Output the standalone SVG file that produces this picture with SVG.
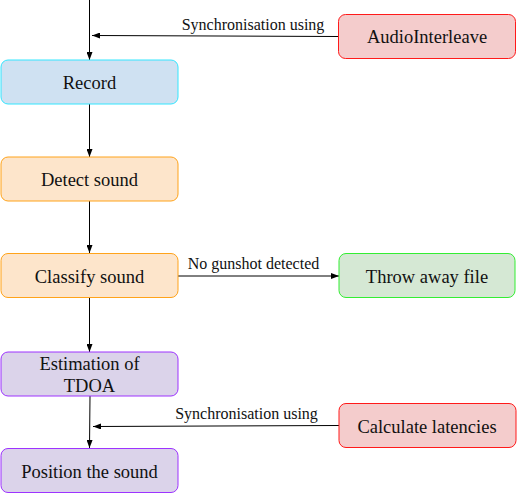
<svg xmlns="http://www.w3.org/2000/svg" width="517" height="494" viewBox="0 0 517 494">
  <style>
    .box text { font-family: "Liberation Serif", "Times New Roman", serif; font-size: 18.5px; fill: #111; text-anchor: middle; }
    .lbl { font-family: "Liberation Serif", "Times New Roman", serif; font-size: 16px; fill: #111; text-anchor: middle; }
    .edge { stroke: #000; stroke-width: 1; fill: none; marker-end: url(#arr); }
    .blue rect { fill: #cfe1f2; stroke: #33e6ff; }
    .orange rect { fill: #fde5cb; stroke: #ffa31a; }
    .green rect { fill: #d5e8d4; stroke: #33ee33; }
    .red rect { fill: #f4cccc; stroke: #ff1a1a; }
    .purple rect { fill: #dbd3ea; stroke: #9d33ff; }
  </style>
  <defs>
    <marker id="arr" viewBox="0 0 8 6" refX="8" refY="3" markerWidth="8" markerHeight="6" markerUnits="userSpaceOnUse" orient="auto">
      <path d="M0,0 L8,3 L0,6 Z" fill="#000"/>
    </marker>
  </defs>

  <g id="connectors">
    <line class="edge" x1="89.5" y1="0" x2="89.5" y2="60"/>
    <line class="edge" x1="338" y1="36.5" x2="92" y2="35.5"/>
    <line class="edge" x1="89.5" y1="104" x2="89.5" y2="157"/>
    <line class="edge" x1="89.5" y1="201" x2="89.5" y2="253"/>
    <line class="edge" x1="178" y1="276" x2="339" y2="276"/>
    <line class="edge" x1="89.5" y1="298" x2="89.5" y2="352"/>
    <line class="edge" x1="90" y1="396" x2="89.5" y2="448"/>
    <line class="edge" x1="339" y1="425.5" x2="93" y2="426.5"/>
    <text class="lbl" x="253" y="30">Synchronisation using</text>
    <text class="lbl" x="253.5" y="268.5">No gunshot detected</text>
    <text class="lbl" x="246.5" y="418.5">Synchronisation using</text>
  </g>

  <g id="record" class="box blue">
    <rect x="1" y="60" width="177" height="44" rx="7"/>
    <text x="89.5" y="88.5">Record</text>
  </g>
  <g id="audio-interleave" class="box red">
    <rect x="338.5" y="14.5" width="177" height="44" rx="7"/>
    <text x="427" y="43">AudioInterleave</text>
  </g>
  <g id="detect-sound" class="box orange">
    <rect x="1" y="157" width="177" height="44" rx="7"/>
    <text x="89.5" y="185.5">Detect sound</text>
  </g>
  <g id="classify-sound" class="box orange">
    <rect x="1" y="253.5" width="177" height="44" rx="7"/>
    <text x="89.5" y="282.5">Classify sound</text>
  </g>
  <g id="throw-away" class="box green">
    <rect x="339" y="253.5" width="176" height="44" rx="7"/>
    <text x="427" y="282.5">Throw away file</text>
  </g>
  <g id="estimation" class="box purple">
    <rect x="1" y="352" width="177" height="44" rx="7"/>
    <text x="89.5" y="369.5">Estimation of</text>
    <text x="89.5" y="392">TDOA</text>
  </g>
  <g id="calc-latencies" class="box red">
    <rect x="339" y="403.5" width="177" height="44" rx="7"/>
    <text x="427" y="432.5">Calculate latencies</text>
  </g>
  <g id="position" class="box purple">
    <rect x="1" y="448.5" width="177" height="44" rx="7"/>
    <text x="89.5" y="477.5">Position the sound</text>
  </g>
</svg>
